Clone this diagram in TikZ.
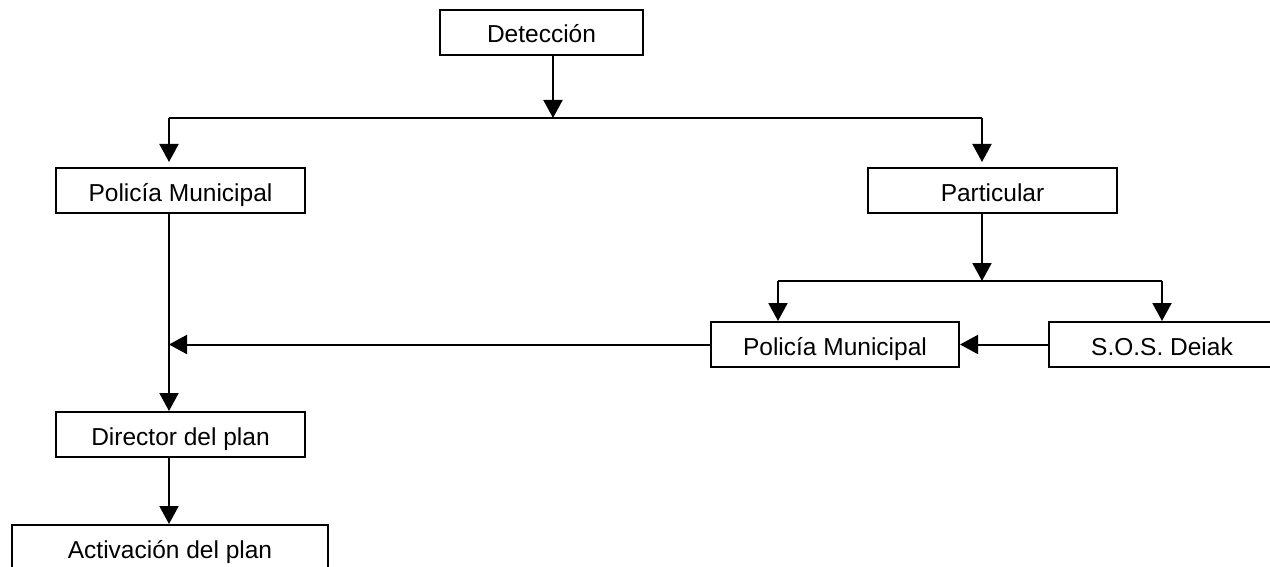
\documentclass[tikz,border=0pt]{standalone}
\usepackage{fontspec}
\setmainfont{Liberation Sans}
\usetikzlibrary{arrows.meta}
\begin{document}
\begin{tikzpicture}[x=1pt,y=-1pt,
  box/.style={draw, line width=2pt, rectangle, minimum height=45pt, inner sep=0pt,
    text height=21pt, text depth=0pt, font=\fontsize{24.5}{28}\selectfont},
  arr/.style={-{Triangle[width=19pt,length=18pt]}, line width=2pt},
  ln/.style={line width=2pt}]
\useasboundingbox (0,0) rectangle (1270,567);
\node[box, minimum width=203pt] (Det) at (541.5,32.5) {Detección};
\node[box, minimum width=249pt] (PM1) at (180.5,190.5) {Policía Municipal};
\node[box, minimum width=249pt] (Part) at (992.5,190.5) {Particular};
\node[box, minimum width=248pt] (PM2) at (835,344.5) {Policía Municipal};
\node[box, minimum width=226pt] (SOS) at (1162,344.5) {S.O.S. Deiak};
\node[box, minimum width=249pt] (Dir) at (180.5,434.5) {Director del plan};
\node[box, minimum width=316pt] (Act) at (170,547.5) {Activación del plan};
\coordinate (t1) at (553,118);
\coordinate (c1) at (169,118);
\coordinate (c2) at (982,118);
\coordinate (c3) at (982,281);
\coordinate (c4) at (778,281);
\coordinate (c5) at (1162,281);
\draw[arr] (Det.south -| t1) -- (t1);
\draw[ln] (c1) -- (c2);
\draw[arr, shorten >=5pt] (c1) -- (c1 |- PM1.north);
\draw[arr, shorten >=5pt] (c2) -- (c2 |- Part.north);
\draw[arr] (c2 |- Part.south) -- (c3);
\draw[ln] (c4) -- (c5);
\draw[arr] (c4) -- (c4 |- PM2.north);
\draw[arr] (c5) -- (c5 |- SOS.north);
\draw[arr] (SOS.west) -- (PM2.east);
\draw[arr] (PM2.west) -- (PM2.west -| c1);
\draw[arr] (c1 |- PM1.south) -- (c1 |- Dir.north);
\draw[arr] (c1 |- Dir.south) -- (c1 |- Act.north);
\end{tikzpicture}
\end{document}
